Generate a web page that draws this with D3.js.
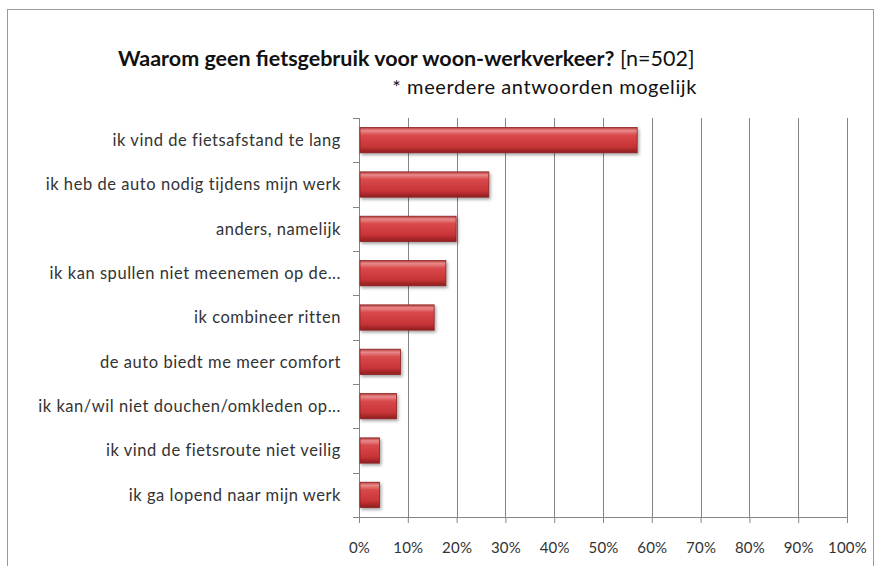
<!DOCTYPE html>
<html><head>
<meta charset="utf-8">
<script src="https://d3js.org/d3.v7.min.js"></script>
<style>
  body { margin: 0; background: #fff; }
  text { font-family: Lato, "Open Sans", sans-serif; }
</style>
</head>
<body>
<svg id="chart" width="880" height="566"></svg>
<script>
// data
const reasons = [
  "ik vind de fietsafstand te lang",
  "ik heb de auto nodig tijdens mijn werk",
  "anders, namelijk",
  "ik kan spullen niet meenemen op de...",
  "ik combineer ritten",
  "de auto biedt me meer  comfort",
  "ik kan/wil niet douchen/omkleden op...",
  "ik vind de fietsroute niet veilig",
  "ik ga lopend naar mijn werk"
];
const shares = [0.570, 0.266, 0.199, 0.178, 0.154, 0.085, 0.077, 0.042, 0.042];
const tickValues = [0, 0.1, 0.2, 0.3, 0.4, 0.5, 0.6, 0.7, 0.8, 0.9, 1.0];

let svg = d3.select("svg#chart");
const margins = {top: 118, right: 33, bottom: 49, left: 359};
const plotWidth = 880 - margins.left - margins.right;
const plotHeight = 566 - margins.top - margins.bottom;

// outer frame
svg.append("rect")
  .attr("x", 7.5).attr("y", 9.5)
  .attr("width", 866).attr("height", 570)
  .style("fill", "none")
  .style("stroke", "#9a9a9a")
  .style("stroke-width", 1);

// bar gradient (the bevelled red of the original)
let defs = svg.append("defs");
let grad = defs.append("linearGradient")
  .attr("id", "barGrad")
  .attr("x1", 0).attr("y1", 0).attr("x2", 0).attr("y2", 1);
grad.append("stop").attr("offset", "0%").attr("stop-color", "#b83a3c");
grad.append("stop").attr("offset", "12%").attr("stop-color", "#e88a8a");
grad.append("stop").attr("offset", "30%").attr("stop-color", "#d9494b");
grad.append("stop").attr("offset", "75%").attr("stop-color", "#c83436");
grad.append("stop").attr("offset", "100%").attr("stop-color", "#8e1e20");

let shadow = defs.append("filter").attr("id", "shadow")
  .attr("x", "-10%").attr("y", "-20%").attr("width", "130%").attr("height", "160%");
shadow.append("feDropShadow")
  .attr("dx", 1.5).attr("dy", 2).attr("stdDeviation", 1.5)
  .attr("flood-color", "#000").attr("flood-opacity", 0.35);

let x = d3.scaleLinear().domain([0, 1]).range([0, plotWidth]);
let y = d3.scaleBand().domain(reasons).range([0, plotHeight]).paddingInner(0.43).paddingOuter(0.215);

let g = svg.append("g").attr("transform", `translate(${margins.left},${margins.top})`);

// vertical gridlines
tickValues.forEach(t => {
  g.append("line")
    .attr("x1", Math.round(x(t)) + 0.5).attr("x2", Math.round(x(t)) + 0.5)
    .attr("y1", 0).attr("y2", plotHeight)
    .style("stroke", "#858585")
    .style("stroke-width", 1);
});

// x axis
let xAxis = g.append("g")
  .attr("transform", `translate(0,${plotHeight})`)
  .call(d3.axisBottom(x).tickValues(tickValues).tickFormat(d3.format(".0%")).tickSize(6).tickPadding(19));
xAxis.select(".domain").attr("stroke", "#858585");
xAxis.selectAll(".tick line").attr("stroke", "#858585");
xAxis.selectAll("text")
  .style("font-family", "Lato, sans-serif")
  .style("font-size", "15px")
  .style("letter-spacing", "0.2px")
  .attr("fill", "#333");

// y axis: band boundary ticks + category labels
g.append("line")
  .attr("x1", 0.5).attr("x2", 0.5).attr("y1", 0).attr("y2", plotHeight)
  .style("stroke", "#858585");
for (let i = 0; i <= reasons.length; i += 1) {
  let yy = Math.round(i * plotHeight / reasons.length) + 0.5;
  g.append("line")
    .attr("x1", -6).attr("x2", 0)
    .attr("y1", yy).attr("y2", yy)
    .style("stroke", "#858585");
}
reasons.forEach(r => {
  g.append("text")
    .attr("x", -18)
    .attr("y", y(r) + y.bandwidth() / 2)
    .attr("dy", "0.35em")
    .attr("text-anchor", "end")
    .style("font-size", "16.5px")
    .style("letter-spacing", "0.55px")
    .attr("fill", "#333")
    .text(r);
});

// bars
reasons.forEach((r, i) => {
  g.append("rect")
    .attr("x", 1)
    .attr("y", y(r))
    .attr("width", x(shares[i]) - 1)
    .attr("height", y.bandwidth())
    .attr("filter", "url(#shadow)")
    .style("fill", "url(#barGrad)")
    .style("stroke", "#8a2224")
    .style("stroke-width", 0.8);
});

// title
let title = svg.append("text")
  .attr("x", 118).attr("y", 66)
  .style("font-size", "21.5px")
  .attr("fill", "#111");
title.append("tspan").style("font-weight", "bold").text("Waarom geen fietsgebruik voor woon-werkverkeer?");
title.append("tspan").style("font-weight", "normal").text(" [n=502]");

svg.append("text")
  .attr("x", 697).attr("y", 94)
  .attr("text-anchor", "end")
  .style("font-size", "20px")
  .style("letter-spacing", "0.6px")
  .attr("fill", "#111")
  .text("* meerdere antwoorden mogelijk");
</script>
</body>
</html>
